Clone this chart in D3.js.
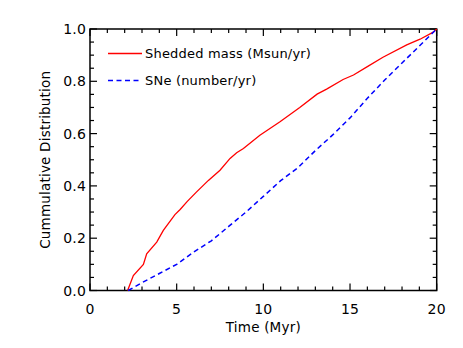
<!DOCTYPE html>
<html>
<head>
    <meta charset="utf-8">
    <title>cumulative distribution</title>
    <style>
        body { margin: 0; background: #fff; }
        text { font-family: "DejaVu Sans", sans-serif; fill: #000; letter-spacing: 0.2px; }
    </style>
</head>
<body>
<script src="https://d3js.org/d3.v7.min.js"></script>
<script>
// time (Myr) and cumulative values
var massTime = [2.17, 2.5, 3.08, 3.27, 3.85, 4.23, 4.9, 5.2, 5.6, 6.15, 6.83, 7.5, 8.08, 8.46, 8.85, 9.8, 10.96, 12.1, 13.1, 13.65, 14.6, 15.2, 16.0, 16.9, 18.27, 19.04, 19.8, 20];
var massCum  = [0, 0.057, 0.1, 0.14, 0.185, 0.23, 0.29, 0.31, 0.34, 0.377, 0.421, 0.46, 0.505, 0.527, 0.543, 0.594, 0.645, 0.70, 0.751, 0.77, 0.807, 0.824, 0.856, 0.892, 0.939, 0.961, 0.988, 1.0];
var sneTime = [2.2, 3, 4, 5, 6, 7, 8, 9, 10, 11, 12, 13, 14, 15, 16, 17, 18, 19, 20];
var sneCum  = [0, 0.03, 0.065, 0.1, 0.148, 0.19, 0.245, 0.3, 0.36, 0.42, 0.47, 0.535, 0.595, 0.66, 0.735, 0.805, 0.87, 0.935, 1.0];
var xTicks = [0, 5, 10, 15, 20];
var yTicks = [0, 0.2, 0.4, 0.6, 0.8, 1.0];
var legendNames = ["Shedded mass (Msun/yr)", "SNe (number/yr)"];

var width = 463, height = 348;
// plot box edges (note: "top" is reserved on window, so use pTop etc)
var pLeft = 90, pRight = 436.7, pTop = 29, pBottom = 290.5;

var svg = d3.select("body").append("svg")
    .attr("width", width).attr("height", height);

var x = d3.scaleLinear().domain([0, 20]).range([pLeft, pRight]);
var y = d3.scaleLinear().domain([0, 1]).range([pBottom, pTop]);

var tickCol = "#000";
// minor ticks every 1 Myr / 0.05, major at labels
var xMinor = d3.range(0, 20.01, 1);
var yMinor = d3.range(0, 1.001, 0.05);

function isMajorX(v) { return Math.abs(v % 5) < 1e-6; }
function isMajorY(v) { return Math.round(v * 100) % 20 == 0; }

var g = svg.append("g");
xMinor.forEach(function (v) {
    var len = isMajorX(v) ? 7 : 4;
    g.append("line").attr("x1", x(v)).attr("x2", x(v)).attr("y1", pBottom).attr("y2", pBottom - len)
        .attr("stroke", tickCol).attr("stroke-width", 1.2);
    g.append("line").attr("x1", x(v)).attr("x2", x(v)).attr("y1", pTop).attr("y2", pTop + len)
        .attr("stroke", tickCol).attr("stroke-width", 1.2);
});
yMinor.forEach(function (v) {
    var len = isMajorY(v) ? 7 : 4;
    g.append("line").attr("x1", pLeft).attr("x2", pLeft + len).attr("y1", y(v)).attr("y2", y(v))
        .attr("stroke", tickCol).attr("stroke-width", 1.2);
    g.append("line").attr("x1", pRight).attr("x2", pRight - len).attr("y1", y(v)).attr("y2", y(v))
        .attr("stroke", tickCol).attr("stroke-width", 1.2);
});

g.append("rect").attr("x", pLeft).attr("y", pTop)
    .attr("width", pRight - pLeft).attr("height", pBottom - pTop)
    .attr("fill", "none").attr("stroke", "#000").attr("stroke-width", 1.5);

// tick labels
svg.selectAll(".xl").data(xTicks).enter().append("text")
    .attr("x", function (d) { return x(d); }).attr("y", pBottom + 23)
    .attr("text-anchor", "middle").attr("font-size", "14px")
    .text(function (d) { return d; });
svg.selectAll(".yl").data(yTicks).enter().append("text")
    .attr("x", pLeft - 4).attr("y", function (d) { return y(d) + 5; })
    .attr("text-anchor", "end").attr("font-size", "14px")
    .text(function (d) { return d.toFixed(1); });

svg.append("text").attr("x", (pLeft + pRight) / 2).attr("y", 332)
    .attr("text-anchor", "middle").attr("font-size", "13.5px").text("Time (Myr)");
svg.append("text").attr("transform", "translate(50," + ((pTop + pBottom) / 2) + ") rotate(-90)")
    .attr("text-anchor", "middle").attr("font-size", "13.5px").text("Cummulative Distribution");

var line = d3.line().x(function (d) { return x(d[0]); }).y(function (d) { return y(d[1]); });

svg.append("path").datum(d3.zip(massTime, massCum))
    .attr("d", line).attr("fill", "none").attr("stroke", "#ff0000").attr("stroke-width", 1.3);
svg.append("path").datum(d3.zip(sneTime, sneCum))
    .attr("d", line).attr("fill", "none").attr("stroke", "#0000ff").attr("stroke-width", 1.5)
    .attr("stroke-dasharray", "5,3.5");

// legend
var lg = svg.append("g");
lg.append("line").attr("x1", 108).attr("x2", 142).attr("y1", 53.5).attr("y2", 53.5)
    .attr("stroke", "#ff0000").attr("stroke-width", 1.3);
lg.append("line").attr("x1", 108).attr("x2", 142).attr("y1", 80.5).attr("y2", 80.5)
    .attr("stroke", "#0000ff").attr("stroke-width", 1.5).attr("stroke-dasharray", "5,3.5");
lg.append("text").attr("x", 145).attr("y", 58).attr("font-size", "13px").text(legendNames[0]);
lg.append("text").attr("x", 145).attr("y", 85).attr("font-size", "13px").text(legendNames[1]);
</script>
</body>
</html>
